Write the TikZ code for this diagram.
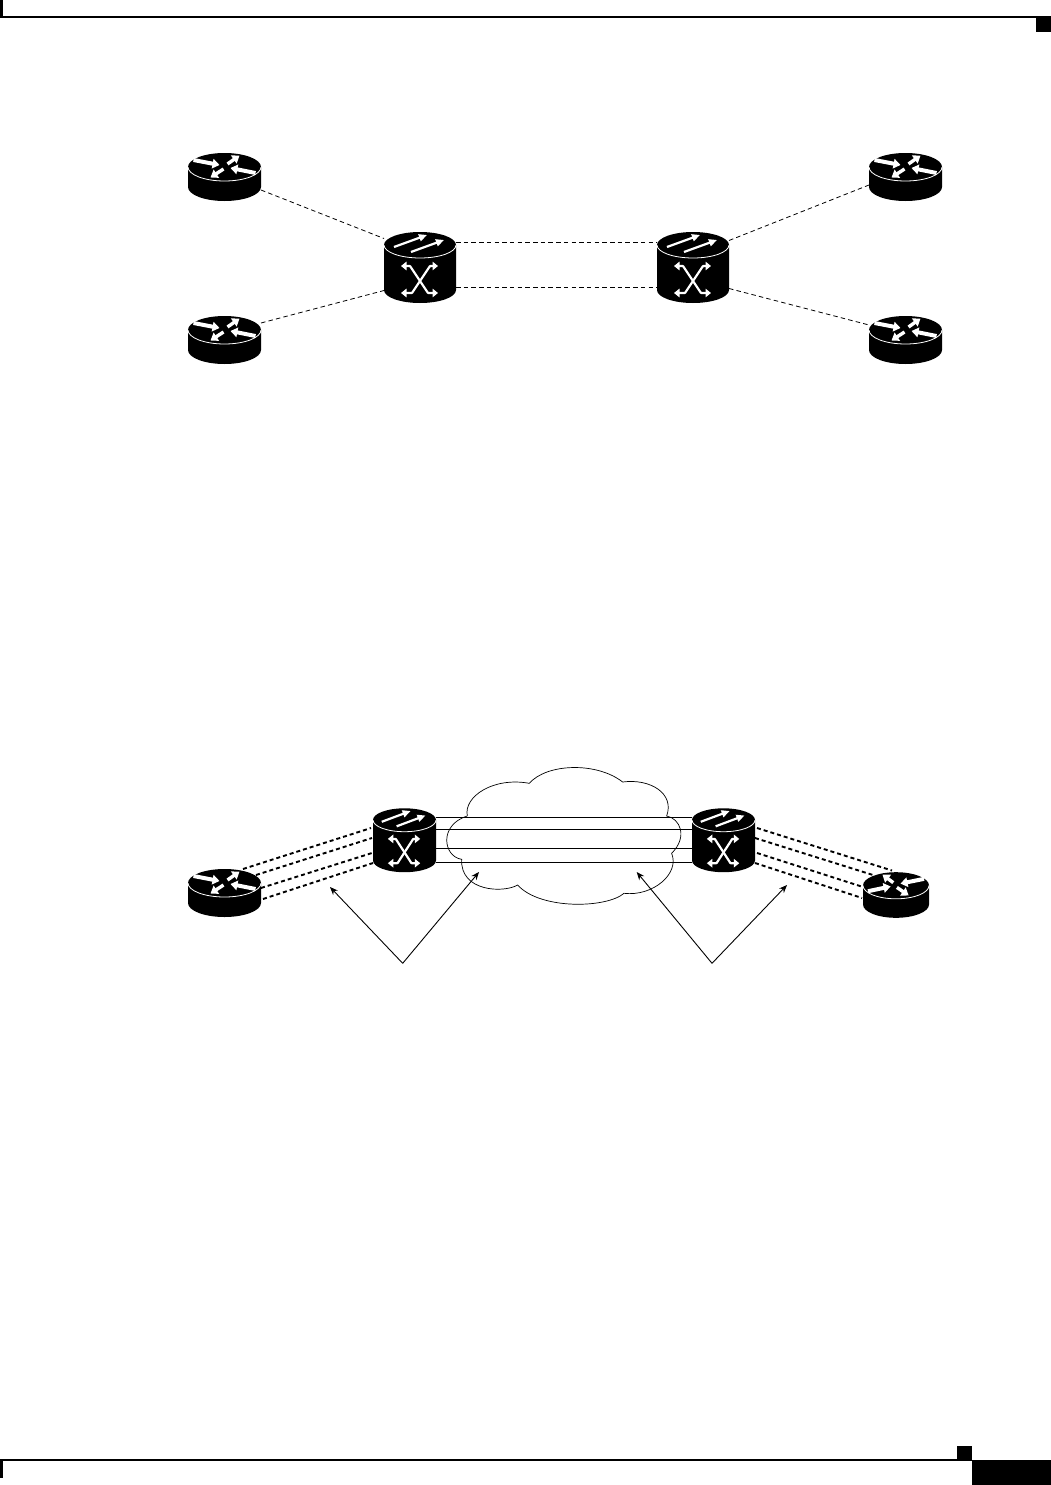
\documentclass[tikz,border=0pt]{standalone}
\usetikzlibrary{arrows.meta,calc}
\tikzset{
  dev/.style={inner sep=0pt,outer sep=0pt,minimum width=#1},
  dashlink/.style={black,line width=0.8pt,dash pattern=on 4.5pt off 3.2pt},
  heavylink/.style={black,line width=1.9pt,dash pattern=on 4pt off 3pt},
  solidlink/.style={black,line width=0.9pt},
  callout/.style={black,line width=0.9pt,-{Stealth[length=8pt,width=6.5pt]}},
  furn/.style={fill=black,draw=none},
  routerarrow/.style={white,line width=4pt,-{Triangle[length=7pt,width=9.5pt]}},
  switcharrow/.style={white,line width=2.2pt,-{Triangle[length=8pt,width=7pt]}},
  crossarrow/.style={white,line width=2.2pt,{Triangle[length=5.5pt,width=8.5pt]}-{Triangle[length=5.5pt,width=8.5pt]},rounded corners=0.5pt},
  pics/router/.style={code={
    \fill[black] (-36.5,0) arc[x radius=36.5,y radius=14,start angle=180,end angle=360]
      -- (36.5,20) arc[x radius=36.5,y radius=14,start angle=0,end angle=180] -- cycle;
    \draw[white,line width=0.8pt] (-36.5,0) arc[x radius=36.5,y radius=14,start angle=180,end angle=0];
    \draw[routerarrow] (-31,-7) -- (-5,-2);
    \draw[routerarrow] (31,6) -- (6,1);
    \draw[routerarrow,line width=3.4pt] (3,-3) -- (15,-11.5);
    \draw[routerarrow,line width=3.4pt] (-1,2) -- (-14,10.5);
  }},
  pics/switch/.style={code={
    \fill[black] (-36,0) arc[x radius=36,y radius=13,start angle=180,end angle=360]
      -- (36,45) arc[x radius=36,y radius=13,start angle=0,end angle=180] -- cycle;
    \draw[white,line width=0.8pt] (-36,0) arc[x radius=36,y radius=13,start angle=180,end angle=0];
    \draw[switcharrow] (-26,2) -- (7,-10);
    \draw[switcharrow] (-9,7) -- (24,-5);
    \draw[crossarrow] (-19,21) -- (-10,21) -- (8,48) -- (18,48);
    \draw[crossarrow] (18,21) -- (10,21) -- (-8,48) -- (-19,48);
  }}
}
\begin{document}
\begin{tikzpicture}[x=1pt,y=-1pt]
\useasboundingbox (0,0) rectangle (1051,1485);
% page furniture
\fill[furn] (0,0) rectangle (3,18);
\draw[black,line width=1.2pt] (0,17) -- (1051,17);
\fill[furn] (1036,17) rectangle (1051,32);
\draw[black,line width=1.2pt] (0,1460) -- (972,1460);
\fill[furn] (0,1460) rectangle (3,1478);
\fill[furn] (957,1446) rectangle (972,1460);
\fill[furn] (972,1460) rectangle (1051,1485);

% upper devices
\node[dev=73pt,minimum height=48pt] (r1) at (224.5,177) {};
\node[dev=73pt,minimum height=48pt] (r2) at (224.5,340) {};
\node[dev=73pt,minimum height=48pt] (r3) at (905.5,177) {};
\node[dev=73pt,minimum height=48pt] (r4) at (905.5,340) {};
\node[dev=72pt,minimum height=71pt] (s1) at (420,267.5) {};
\node[dev=72pt,minimum height=71pt] (s2) at (693,267.5) {};
\pic at (224.5,167) {router};
\pic at (224.5,330) {router};
\pic at (905.5,167) {router};
\pic at (905.5,330) {router};
\pic at (420,245) {switch};
\pic at (693,245) {switch};
\draw[dashlink] ($(r1.east)+(0,13)$) -- ($(s1.west)+(0,-29)$);
\draw[dashlink] ($(r2.east)+(0,-17)$) -- ($(s1.west)+(0,23)$);
\draw[dashlink] ($(s1.east)+(0,-25)$) -- ($(s2.west)+(0,-25)$);
\draw[dashlink] ($(s1.east)+(0,20)$) -- ($(s2.west)+(0,20)$);
\draw[dashlink] ($(s2.east)+(0,-27)$) -- ($(r3.west)+(0,8)$);
\draw[dashlink] ($(s2.east)+(0,21)$) -- ($(r4.west)+(0,-15)$);

% lower devices
\node[dev=63pt,minimum height=64pt] (s3) at (404.5,840) {};
\node[dev=63pt,minimum height=64pt] (s4) at (723.5,840) {};
\node[dev=73pt,minimum height=48pt] (r5) at (224.5,893) {};
\node[dev=66pt,minimum height=47pt] (r6) at (896,895.5) {};
\pic[xscale=0.875,yscale=0.9] at (404.5,820) {switch};
\pic[xscale=0.875,yscale=0.9] at (723.5,820) {switch};
\pic at (224.5,883) {router};
\pic[xscale=-0.904,yscale=0.95] at (896,885.5) {router};

% cloud
\begin{scope}[shift={(350,750)},x=0.3333pt,y=-0.3333pt]
\coordinate (cloudstart) at (352,198);
\draw[black,line width=0.7pt] (cloudstart)
  .. controls (340,140) and (430,80) .. (538,100)
  .. controls (590,40) and (740,35) .. (818,96)
  .. controls (900,85) and (975,130) .. (950,198)
  .. controls (990,205) and (1015,260) .. (965,310)
  .. controls (990,370) and (910,440) .. (822,430)
  .. controls (770,475) and (570,480) .. (503,405)
  .. controls (460,430) and (330,425) .. (335,328)
  .. controls (280,320) and (265,225) .. (352,198);
\end{scope}

% links through the cloud
\draw[solidlink] ($(s3.east)+(0,-23)$) -- ($(s4.west)+(0,-23)$);
\draw[solidlink] ($(s3.east)+(0,-10.5)$) -- ($(s4.west)+(0,-10.5)$);
\draw[solidlink] ($(s3.east)+(0,8.5)$) -- ($(s4.west)+(0,8.5)$);
\draw[solidlink] ($(s3.east)+(0,22)$) -- ($(s4.west)+(0,22)$);

% heavy dashed bundles
\draw[heavylink] ($(r5.east)+(-18,-24)$) -- ($(s3.west)+(-2,-12)$);
\draw[heavylink] ($(r5.east)+(-5,-18)$) -- ($(s3.west)+(-1,-2)$);
\draw[heavylink] ($(r5.east)+(0,-5)$) -- ($(s3.west)+(-1,13)$);
\draw[heavylink] ($(r5.east)+(2,6)$) -- ($(s3.west)+(0,23)$);
\draw[heavylink] ($(s4.east)+(2,-12)$) -- ($(r6.west)+(29,-25)$);
\draw[heavylink] ($(s4.east)+(0,-2)$) -- ($(r6.west)+(10,-20.5)$);
\draw[heavylink] ($(s4.east)+(2,13)$) -- ($(r6.west)+(0,-8.5)$);
\draw[heavylink] ($(s4.east)+(0,23)$) -- ($(r6.west)+(-1,2.5)$);

% callouts
\coordinate (apexL) at (402.7,963.3);
\coordinate (apexR) at (712,963.3);
\coordinate (tipA) at (330,887);
\coordinate (tipB) at (479,872);
\coordinate (tipC) at (636.7,872);
\coordinate (tipD) at (787,885);
\draw[callout] (apexL) -- (tipA);
\draw[callout] (apexL) -- (tipB);
\draw[callout] (apexR) -- (tipC);
\draw[callout] (apexR) -- (tipD);
\end{tikzpicture}
\end{document}
